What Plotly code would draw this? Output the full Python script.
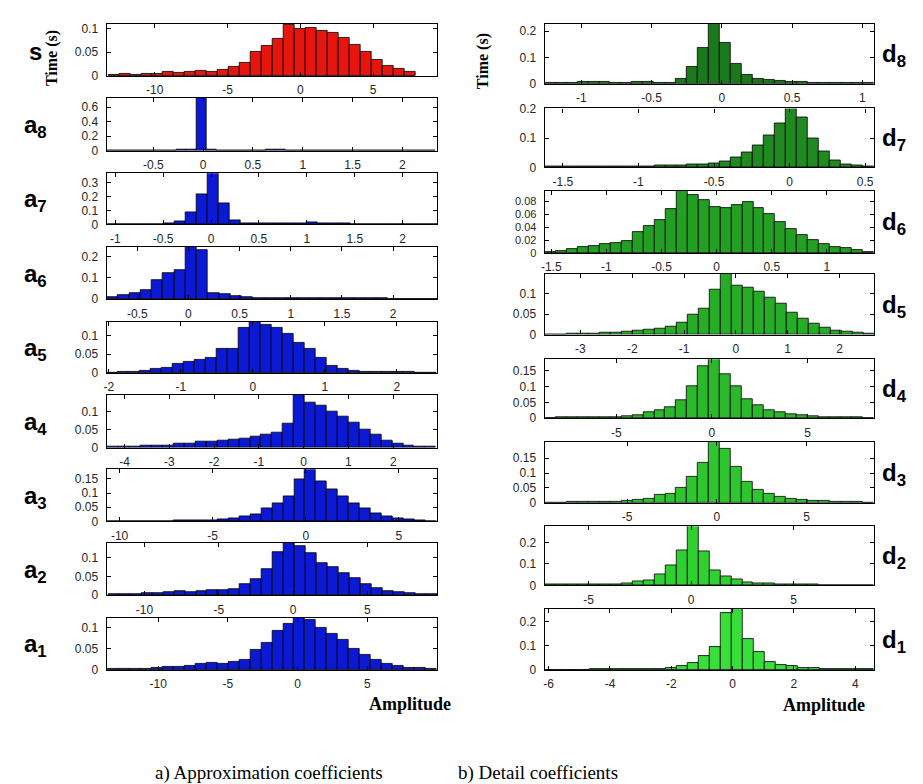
import plotly.graph_objects as go

# ---------------- data (histogram bar heights, bin start, bin width) ----------------
s_values = [0.002, 0.004, 0.003, 0.004, 0.005, 0.008, 0.006, 0.008, 0.011, 0.009, 0.013, 0.019, 0.027, 0.05,
            0.063, 0.078, 0.108, 0.1, 0.102, 0.095, 0.09, 0.08, 0.065, 0.05, 0.035, 0.022, 0.015, 0.008]
s_bins = (-13.19, 0.753)

a8_values = [0.002, 0.002, 0.003, 0.003, 0.004, 0.004, 0.006, 0.01, 0.015, 0.75, 0.02, 0.008, 0.005, 0.004, 0.005,
             0.008, 0.012, 0.01, 0.006, 0.005, 0.004, 0.005, 0.006, 0.004, 0.003, 0.003, 0.002, 0.002, 0.002, 0.002,
             0.001, 0.001, 0.001]
a8_bins = (-0.97, 0.1)

a7_values = [0.002, 0.002, 0.002, 0.003, 0.004, 0.006, 0.02, 0.09, 0.22, 0.4, 0.155, 0.03, 0.01, 0.006, 0.005,
             0.006, 0.007, 0.008, 0.012, 0.01, 0.006, 0.005, 0.004, 0.003, 0.003, 0.003, 0.002, 0.002, 0.002, 0.002]
a7_bins = (-1.075, 0.115)

a6_values = [0.01, 0.018, 0.028, 0.043, 0.09, 0.12, 0.135, 0.26, 0.23, 0.03, 0.025, 0.015, 0.008, 0.007, 0.006,
             0.006, 0.005, 0.005, 0.006, 0.005, 0.004, 0.004, 0.003, 0.003, 0.003, 0.002, 0.002, 0.002, 0.001, 0.001]
a6_bins = (-0.8, 0.11)

a5_values = [0.001, 0.002, 0.003, 0.006, 0.01, 0.015, 0.025, 0.03, 0.035, 0.04, 0.065, 0.065, 0.12, 0.14, 0.13,
             0.12, 0.105, 0.08, 0.065, 0.04, 0.02, 0.01, 0.006, 0.004, 0.003, 0.003, 0.002, 0.002, 0.001, 0.001]
a5_bins = (-2.036, 0.153)

a4_values = [0.002, 0.003, 0.004, 0.005, 0.006, 0.007, 0.01, 0.012, 0.016, 0.017, 0.02, 0.023, 0.026, 0.03, 0.035,
             0.043, 0.066, 0.15, 0.125, 0.117, 0.1, 0.085, 0.07, 0.05, 0.035, 0.02, 0.012, 0.006, 0.003, 0.002]
a4_bins = (-4.368, 0.244)

a3_values = [0.001, 0.001, 0.001, 0.002, 0.002, 0.002, 0.003, 0.003, 0.004, 0.005, 0.008, 0.01, 0.017, 0.026, 0.046,
             0.065, 0.09, 0.147, 0.19, 0.14, 0.115, 0.09, 0.065, 0.045, 0.03, 0.018, 0.01, 0.006, 0.003, 0.002]
a3_bins = (-10.62, 0.588)

a2_values = [0.002, 0.003, 0.004, 0.007, 0.005, 0.008, 0.01, 0.009, 0.012, 0.015, 0.014, 0.017, 0.03, 0.044, 0.07,
             0.117, 0.145, 0.133, 0.114, 0.086, 0.075, 0.06, 0.045, 0.03, 0.02, 0.012, 0.008, 0.005, 0.003, 0.002]
a2_bins = (-12.43, 0.738)

a1_values = [0.002, 0.002, 0.003, 0.003, 0.006, 0.008, 0.007, 0.01, 0.014, 0.017, 0.015, 0.019, 0.024, 0.048, 0.064,
             0.092, 0.11, 0.125, 0.118, 0.1, 0.085, 0.07, 0.05, 0.035, 0.025, 0.015, 0.01, 0.006, 0.004, 0.002]
a1_bins = (-13.62, 0.786)

d8_values = [0.005, 0.005, 0.005, 0.006, 0.007, 0.006, 0.005, 0.005, 0.006, 0.006, 0.005, 0.005, 0.02, 0.065, 0.138,
             0.24, 0.155, 0.075, 0.035, 0.02, 0.015, 0.012, 0.008, 0.006, 0.005, 0.004, 0.004, 0.003, 0.003, 0.002]
d8_bins = (-1.262, 0.078)

d7_values = [0.002, 0.002, 0.002, 0.002, 0.003, 0.003, 0.003, 0.004, 0.004, 0.005, 0.006, 0.007, 0.008, 0.01, 0.012,
             0.015, 0.022, 0.035, 0.05, 0.075, 0.11, 0.15, 0.21, 0.17, 0.1, 0.055, 0.025, 0.012, 0.006, 0.003]
d7_bins = (-1.62, 0.0725)

d6_values = [0.002, 0.003, 0.006, 0.009, 0.011, 0.014, 0.016, 0.019, 0.032, 0.042, 0.052, 0.069, 0.098, 0.091, 0.083,
             0.071, 0.07, 0.075, 0.079, 0.07, 0.06, 0.048, 0.038, 0.028, 0.02, 0.014, 0.01, 0.007, 0.004, 0.002]
d6_bins = (-1.557, 0.0994)

d5_values = [0.001, 0.001, 0.002, 0.002, 0.003, 0.004, 0.006, 0.008, 0.01, 0.012, 0.015, 0.02, 0.03, 0.048, 0.065,
             0.11, 0.155, 0.12, 0.115, 0.105, 0.09, 0.075, 0.055, 0.04, 0.028, 0.018, 0.011, 0.007, 0.004, 0.002]
d5_bins = (-3.686, 0.212)

d4_values = [0.001, 0.002, 0.002, 0.003, 0.004, 0.004, 0.004, 0.005, 0.01, 0.02, 0.025, 0.036, 0.056, 0.1, 0.165,
             0.19, 0.138, 0.1, 0.06, 0.04, 0.025, 0.018, 0.012, 0.008, 0.006, 0.004, 0.003, 0.002, 0.002, 0.001]
d4_bins = (-8.75, 0.573)

d3_values = [0.001, 0.001, 0.002, 0.002, 0.002, 0.003, 0.003, 0.005, 0.01, 0.015, 0.028, 0.03, 0.05, 0.086, 0.136,
             0.21, 0.18, 0.12, 0.07, 0.045, 0.03, 0.02, 0.014, 0.01, 0.007, 0.005, 0.003, 0.002, 0.002, 0.001]
d3_bins = (-9.6, 0.611)

d2_values = [0.006, 0.005, 0.004, 0.005, 0.004, 0.004, 0.005, 0.008, 0.02, 0.025, 0.049, 0.092, 0.164, 0.28, 0.16,
             0.07, 0.04, 0.03, 0.015, 0.01, 0.01, 0.006, 0.004, 0.003, 0.003, 0.002, 0.002, 0.001, 0.001, 0.001]
d2_bins = (-7.12, 0.534)

d1_values = [0.001, 0.001, 0.001, 0.001, 0.002, 0.002, 0.002, 0.003, 0.003, 0.004, 0.005, 0.008, 0.016, 0.03, 0.057,
             0.094, 0.235, 0.26, 0.13, 0.076, 0.035, 0.02, 0.015, 0.01, 0.008, 0.006, 0.005, 0.004, 0.004, 0.003]
d1_bins = (-6.1, 0.357)

# axis ranges and tick labels
s_xrange, s_yrange = [-13.3, 9.4], [0, 0.11]
a8_xrange, a8_yrange = [-0.97, 2.35], [0, 0.73]
a7_xrange, a7_yrange = [-1.09, 2.36], [0, 0.37]
a6_xrange, a6_yrange = [-0.8, 2.43], [0, 0.244]
a5_xrange, a5_yrange = [-2.03, 2.56], [0, 0.137]
a4_xrange, a4_yrange = [-4.4, 2.98], [0, 0.147]
a3_xrange, a3_yrange = [-10.7, 7.06], [0, 0.184]
a2_xrange, a2_yrange = [-12.55, 9.7], [0, 0.14]
a1_xrange, a1_yrange = [-13.7, 10.0], [0, 0.123]
d8_xrange, d8_yrange = [-1.26, 1.085], [0, 0.228]
d7_xrange, d7_yrange = [-1.62, 0.56], [0, 0.202]
d6_xrange, d6_yrange = [-1.56, 1.43], [0, 0.0965]
d5_xrange, d5_yrange = [-3.69, 2.67], [0, 0.15]
d4_xrange, d4_yrange = [-8.75, 8.49], [0, 0.187]
d3_xrange, d3_yrange = [-9.6, 8.78], [0, 0.205]
d2_xrange, d2_yrange = [-7.14, 8.93], [0, 0.275]
d1_xrange, d1_yrange = [-6.13, 4.62], [0, 0.252]

xt_10_5 = ["-10", "-5", "0", "5"]
xt_half_2 = ["-0.5", "0", "0.5", "1", "1.5", "2"]
xt_1_2 = ["-1", "-0.5", "0", "0.5", "1", "1.5", "2"]
xt_2_2 = ["-2", "-1", "0", "1", "2"]
xt_4_2 = ["-4", "-3", "-2", "-1", "0", "1", "2"]
xt_d8 = ["-1", "-0.5", "0", "0.5", "1"]
xt_d7 = ["-1.5", "-1", "-0.5", "0", "0.5"]
xt_d6 = ["-1.5", "-1", "-0.5", "0", "0.5", "1"]
xt_d5 = ["-3", "-2", "-1", "0", "1", "2"]
xt_5 = ["-5", "0", "5"]
xt_d1 = ["-6", "-4", "-2", "0", "2", "4"]

yt_005_01 = ["0", "0.05", "0.1"]
yt_a8 = ["0", "0.2", "0.4", "0.6"]
yt_a7 = ["0", "0.1", "0.2", "0.3"]
yt_01_02 = ["0", "0.1", "0.2"]
yt_005_015 = ["0", "0.05", "0.1", "0.15"]
yt_d6 = ["0", "0.02", "0.04", "0.06", "0.08"]

# ---------------- styling / layout ----------------
W, H = 923, 784
RED = "#e6160f"
BLUE = "#0b18d4"
GREENS = {"d8": "#1c781c", "d7": "#208a20", "d6": "#23a023", "d5": "#27ac27",
          "d4": "#2bb92b", "d3": "#2ec52e", "d2": "#31d031", "d1": "#38df38"}

panels = [
    ("s", s_values, s_bins, s_xrange, s_yrange, xt_10_5, yt_005_01, RED, "L", 10, 63),
    ("a8", a8_values, a8_bins, a8_xrange, a8_yrange, xt_half_2, yt_a8, BLUE, "L", 85, 139),
    ("a7", a7_values, a7_bins, a7_xrange, a7_yrange, xt_1_2, yt_a7, BLUE, "L", 162, 214),
    ("a6", a6_values, a6_bins, a6_xrange, a6_yrange, xt_half_2, yt_01_02, BLUE, "L", 237, 290),
    ("a5", a5_values, a5_bins, a5_xrange, a5_yrange, xt_2_2, yt_005_01, BLUE, "L", 313, 365),
    ("a4", a4_values, a4_bins, a4_xrange, a4_yrange, xt_4_2, yt_005_01, BLUE, "L", 387, 441),
    ("a3", a3_values, a3_bins, a3_xrange, a3_yrange, xt_10_5, yt_005_015, BLUE, "L", 463, 516),
    ("a2", a2_values, a2_bins, a2_xrange, a2_yrange, xt_10_5, yt_005_01, BLUE, "L", 538, 591),
    ("a1", a1_values, a1_bins, a1_xrange, a1_yrange, xt_10_5, yt_005_01, BLUE, "L", 614, 667),
    ("d8", d8_values, d8_bins, d8_xrange, d8_yrange, xt_d8, yt_01_02, GREENS["d8"], "R", 10, 71),
    ("d7", d7_values, d7_bins, d7_xrange, d7_yrange, xt_d7, yt_01_02, GREENS["d7"], "R", 96, 156),
    ("d6", d6_values, d6_bins, d6_xrange, d6_yrange, xt_d6, yt_d6, GREENS["d6"], "R", 180, 243),
    ("d5", d5_values, d5_bins, d5_xrange, d5_yrange, xt_d5, yt_005_01, GREENS["d5"], "R", 264, 326),
    ("d4", d4_values, d4_bins, d4_xrange, d4_yrange, xt_5, yt_005_015, GREENS["d4"], "R", 351, 411),
    ("d3", d3_values, d3_bins, d3_xrange, d3_yrange, xt_5, yt_005_015, GREENS["d3"], "R", 435, 497),
    ("d2", d2_values, d2_bins, d2_xrange, d2_yrange, xt_5, yt_01_02, GREENS["d2"], "R", 521, 581),
    ("d1", d1_values, d1_bins, d1_xrange, d1_yrange, xt_d1, yt_01_02, GREENS["d1"], "R", 605, 667),
]

COLS = {"L": (95, 427), "R": (535, 866)}
FONT_SANS = "Liberation Sans, Arial, sans-serif"

fig = go.Figure()
layout = {}
annotations = []
for i, (name, vals, bins, xr, yr, xt, yt, color, col, top, bot) in enumerate(panels, start=1):
    start, width = bins
    xa = "x" if i == 1 else f"x{i}"
    ya = "y" if i == 1 else f"y{i}"
    fig.add_trace(go.Bar(
        x0=start + width / 2, dx=width, y=vals,
        marker=dict(color=color, line=dict(color="black", width=0.8)),
        xaxis=xa, yaxis=ya, showlegend=False, hoverinfo="skip"))
    x0p, x1p = COLS[col]
    common = dict(showline=True, linecolor="black", linewidth=1.2, mirror="ticks",
                  ticks="inside", ticklen=4, tickcolor="black", tickwidth=1,
                  showgrid=False, zeroline=False, fixedrange=True)
    ysize = 11 if len(yt) >= 5 else 12
    layout["xaxis" if i == 1 else f"xaxis{i}"] = dict(
        domain=[x0p / W, x1p / W], range=xr, anchor=ya,
        tickmode="array", tickvals=[float(t) for t in xt], ticktext=xt,
        ticklabelstandoff=3, tickfont=dict(family=FONT_SANS, size=12, color="#262626"), **common)
    layout["yaxis" if i == 1 else f"yaxis{i}"] = dict(
        domain=[1 - bot / H, 1 - top / H], range=yr, anchor=xa,
        tickmode="array", tickvals=[float(t) for t in yt], ticktext=yt,
        ticklabelstandoff=5, tickfont=dict(family=FONT_SANS, size=ysize, color="#262626"), **common)
    # panel label
    mid = (top + bot) / 2
    if name == "s":
        txt = "<b>s</b>"
    else:
        txt = f"<b>{name[0]}<sub>{name[1:]}</sub></b>"
    lx = 24 if col == "L" else 886
    annotations.append(dict(text=txt, x=lx / W, y=1 - (mid + 2) / H, xref="paper", yref="paper",
                            showarrow=False, xanchor="center", yanchor="middle",
                            font=dict(family=FONT_SANS, size=24, color="black")))

SERIF = "Liberation Serif, Times New Roman, serif"
for (tx, ty, text, size, ang) in [
    (40, 45, "<b>Time (s)</b>", 16, -90),
    (473, 48, "<b>Time (s)</b>", 16, -90),
    (400, 702, "<b>Amplitude</b>", 18, 0),
    (816, 703, "<b>Amplitude</b>", 18, 0),
    (258, 772, "a) Approximation coefficients", 19, 0),
    (528, 772, "b) Detail coefficients", 19, 0),
]:
    annotations.append(dict(text=text, x=tx / W, y=1 - ty / H, xref="paper", yref="paper",
                            showarrow=False, xanchor="center", yanchor="middle", textangle=ang,
                            font=dict(family=SERIF, size=size, color="black")))

fig.update_layout(**layout)
fig.update_layout(width=W, height=H, margin=dict(l=0, r=0, t=0, b=0),
                  paper_bgcolor="white", plot_bgcolor="white", bargap=0,
                  annotations=annotations)
fig.write_html("out.html")
